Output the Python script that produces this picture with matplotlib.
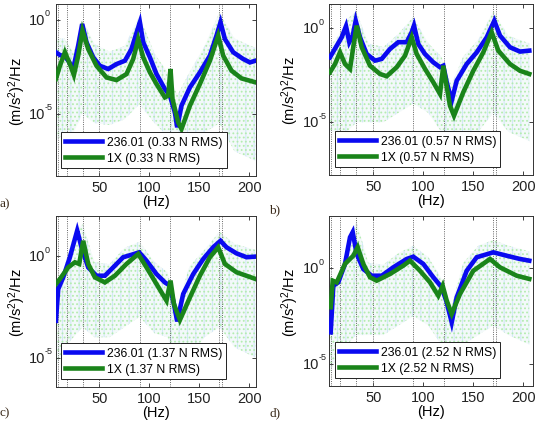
import numpy as np
import matplotlib
matplotlib.use('Agg')
import matplotlib.pyplot as plt
from matplotlib.transforms import blended_transform_factory, offset_copy

# ---------------- data (log10 of PSD, (m/s^2)^2/Hz) ----------------
mode_lines = [8, 17, 33, 50, 90, 121, 169.5, 172.5]

# panel a (0.33 N RMS)
a_bf = [6.4, 10.4, 15.4, 19, 23.7, 28.7, 32.7, 37, 43.7, 50.4, 58.7, 67, 75.4, 82, 87.7, 90.4, 93.7, 100.4, 107, 115.4, 120.4, 125.4, 127.7, 132, 140.4, 150.4, 160.4, 167, 171, 175.4, 183.7, 193.7, 200.4, 206]
a_bv = [-1.73, -1.88, -1.95, -2.2, -2.62, -1.38, -0.23, -1.2, -2.0, -2.45, -2.62, -2.36, -2.18, -1.56, -0.58, -0.14, -1.2, -2.0, -2.89, -3.69, -4.04, -4.93, -5.72, -4.57, -3.6, -2.8, -1.91, -0.85, -0.14, -1.03, -1.73, -2.09, -2.27, -2.18]
a_gf = [6.4, 10.4, 15.4, 20.4, 24.4, 28.7, 33, 38.7, 47, 57, 67, 77, 83.7, 88.7, 93.7, 100.4, 107, 115.4, 118.7, 121, 123, 128.7, 132, 140.4, 150.4, 160.4, 168.7, 173.7, 182, 192, 206]
a_gv = [-3.15, -2.45, -1.73, -2.36, -2.94, -1.91, -0.58, -1.56, -2.45, -3.07, -3.21, -2.89, -2.09, -1.03, -2.0, -2.8, -3.42, -4.13, -4.04, -2.62, -4.22, -5.46, -5.81, -4.57, -3.42, -2.18, -0.85, -1.91, -2.71, -3.12, -3.33]

# panel b (0.57 N RMS)
b_bf = [6.7, 13.4, 18.4, 22.7, 26, 29.4, 32.4, 36.7, 43.4, 51.7, 58.4, 66.7, 75, 83.4, 88.4, 90.7, 95, 101.7, 110, 116.7, 120, 123.4, 128.4, 133.4, 143.4, 153.4, 163.4, 171, 176.7, 186.7, 196.7, 206]
b_bv = [-1.54, -0.93, -0.48, 0.11, -0.74, -0.39, 0.40, -0.48, -1.37, -1.72, -1.63, -1.10, -0.74, -0.74, -0.21, 0.14, -0.84, -1.37, -1.81, -2.07, -1.99, -2.87, -3.85, -2.79, -1.90, -1.28, -0.48, 0.40, -0.39, -1.01, -1.24, -1.19]
b_gf = [6.7, 11.7, 16.7, 21.7, 26.7, 30.7, 33.4, 38.4, 46.7, 56.7, 63.4, 73.4, 81.7, 88.4, 93.4, 101.7, 110, 116.7, 120, 122.7, 126.7, 130.7, 140, 150, 160, 168.4, 175, 186.7, 196.7, 206]
b_gv = [-2.34, -1.90, -1.28, -1.90, -2.16, -0.74, 0.14, -1.01, -1.99, -2.43, -2.55, -2.07, -1.46, -0.48, -1.37, -2.16, -2.87, -3.49, -1.99, -2.87, -4.12, -4.65, -3.40, -2.26, -1.28, -0.21, -1.19, -1.90, -2.26, -2.43]

# panel c (1.37 N RMS)
c_bf = [6.4, 8.7, 13.7, 20.4, 25.4, 27.7, 32, 38.7, 47, 55.4, 63.7, 73.7, 82, 89.7, 97, 107, 115.4, 120.4, 124.4, 127.7, 133.7, 143.7, 153.7, 163.7, 171, 177, 187, 197, 206]
c_bv = [-3.19, -1.63, -1.05, -0.06, 0.84, 1.25, 0.43, -0.56, -0.97, -0.97, -0.56, -0.06, 0.06, 0.18, -0.23, -0.89, -1.30, -1.46, -2.36, -3.22, -1.87, -0.89, -0.15, 0.43, 0.75, 0.43, 0.13, -0.06, -0.03]
c_gf = [6.4, 10.4, 18.7, 25.4, 29.7, 33.7, 38.7, 45.4, 55.4, 65.4, 77, 88.7, 97, 107, 117, 121, 124.4, 130.4, 140.4, 150.4, 160.4, 168.7, 175.4, 187, 206]
c_gv = [-1.38, -1.13, -0.56, -0.31, -0.39, 0.75, -0.39, -1.05, -1.30, -0.97, -0.39, 0.10, -0.56, -1.38, -2.20, -1.21, -2.36, -3.15, -2.04, -0.97, -0.06, 0.43, -0.39, -0.80, -1.13]

# panel d (2.52 N RMS)
d_bf = [7.4, 10, 15, 21.7, 26.7, 29.4, 33.4, 40, 48.4, 58.4, 70, 83.4, 90, 100, 110, 118.4, 123.4, 128.4, 133.4, 143.4, 153.4, 170, 183.4, 196.7, 206]
d_bv = [-3.36, -0.91, -0.73, 0.24, 1.64, 1.91, 0.76, -0.03, -0.38, -0.38, 0.06, 0.50, 0.62, 0.24, -0.46, -0.99, -1.78, -2.83, -1.52, -0.12, 0.59, 0.85, 0.67, 0.50, 0.41]
d_gf = [7.4, 9.4, 13.4, 21.7, 30, 34.4, 40, 46.7, 53.4, 66.7, 80, 86.7, 96.7, 106.7, 115, 119.4, 123.4, 128.4, 136.7, 150, 166.7, 176.7, 193.4, 206]
d_gv = [-2.04, -0.64, -0.73, 0.24, 0.67, 1.12, 0.24, -0.46, -0.64, -0.29, 0.15, 0.41, -0.12, -0.73, -1.43, -0.91, -1.69, -2.39, -1.34, -0.12, 0.50, 0.06, -0.38, -0.55]

# raw (unsmoothed) spectra envelope
raw_f = [6, 15, 24, 33, 45, 60, 75, 90, 105, 118, 128, 140, 155, 170, 185, 206]
a_hi = [-1.0, -1.0, -1.8, 0.0, -1.3, -1.7, -1.4, 0.2, -1.8, -2.8, -4.0, -2.8, -1.4, 0.4, -1.0, -1.5]
a_lo = [-6.5, -6.0, -6.0, -5.0, -5.5, -5.6, -5.3, -4.5, -5.5, -6.2, -7.5, -7.0, -6.0, -5.5, -7.0, -7.5]
b_hi = [-1.0, -0.4, 0.5, 0.9, -0.8, -1.0, -0.3, 0.6, -0.8, -1.5, -3.0, -1.5, -0.6, 0.9, -0.4, -0.8]
b_lo = [-5.5, -5.5, -5.5, -5.0, -5.0, -5.0, -4.5, -4.0, -4.5, -5.5, -6.5, -6.0, -5.5, -4.5, -5.5, -6.0]
c_hi = [-2.0, -0.5, 1.0, 1.6, -0.3, -0.4, 0.4, 0.7, -0.3, -0.8, -2.5, -0.5, 0.3, 1.2, 0.6, 0.3]
c_lo = [-5.5, -4.5, -4.0, -3.5, -4.0, -4.0, -3.5, -3.0, -3.8, -4.0, -5.5, -5.0, -4.0, -3.5, -4.5, -5.0]
d_hi = [-2.0, -0.3, 1.0, 2.5, 0.3, 0.2, 0.8, 1.2, 0.6, -0.5, -2.0, 0.3, 1.2, 1.5, 1.2, 0.9]
d_lo = [-5.5, -4.5, -4.0, -3.5, -3.5, -3.5, -3.0, -2.5, -3.0, -4.0, -5.0, -4.0, -3.5, -3.0, -3.5, -4.0]

forces = ['0.33', '0.57', '1.37', '2.52']
letters = ['a)', 'b)', 'c)', 'd)']
xticks = [50, 100, 150, 200]
ytick_vals = [1e-5, 1e0]
ytick_exps = ['-5', '0']

# ---------------- style ----------------
plt.rcParams['font.family'] = ['Liberation Sans Narrow', 'Liberation Sans', 'DejaVu Sans']
plt.rcParams['mathtext.default'] = 'regular'
plt.rcParams['hatch.linewidth'] = 0.8

W, H = 535, 427
fig = plt.figure(figsize=(W / 100, H / 100), dpi=100)

boxes = [(55.5, 5, 256, 177), (329.3, 5, 533, 176), (55.5, 217, 256, 388), (329.3, 217, 533, 387)]
ylims = [(-8.31, 0.835), (-7.80, 1.29), (-6.45, 1.97), (-6.18, 2.76)]
xlims = [(6, 206.5), (6, 209.7), (6, 206.5), (6, 209.7)]
ylab_x = [17, 290, 17, 290]
letter_pos = [(0, 204), (269, 210), (0, 413), (269, 413)]

series = [(a_bf, a_bv, a_gf, a_gv, a_hi, a_lo),
          (b_bf, b_bv, b_gf, b_gv, b_hi, b_lo),
          (c_bf, c_bv, c_gf, c_gv, c_hi, c_lo),
          (d_bf, d_bv, d_gf, d_gv, d_hi, d_lo)]

blue = '#0a0af0'
green = '#1a841a'

for i, (bf, bv, gf, gv, hi, lo) in enumerate(series):
    l, t, r, b = boxes[i]
    ax = fig.add_axes([l / W, (H - b) / H, (r - l) / W, (b - t) / H])
    ax.set_yscale('log')
    rf = np.array(raw_f)
    ylo, yhi = 10 ** np.array(lo), 10 ** np.array(hi)
    ax.fill_between(rf, ylo, yhi, facecolor='#f3f9fa', edgecolor='#d2e8f6',
                    hatch='||', linewidth=0, zorder=1)
    ax.fill_between(rf, ylo, yhi, facecolor='none', edgecolor='#b4ecb0',
                    hatch='....', linewidth=0, zorder=1.1)
    for m in mode_lines:
        ax.axvline(m, color='#666666', ls=(0, (1, 1.3)), lw=0.7, zorder=2)
    hb, = ax.plot(bf, 10 ** np.array(bv), color=blue, lw=3.3, zorder=4,
                  solid_joinstyle='miter')
    hg, = ax.plot(gf, 10 ** np.array(gv), color=green, lw=3.3, zorder=5,
                  solid_joinstyle='miter')
    ax.set_xlim(*xlims[i])
    ax.set_ylim(10 ** ylims[i][0], 10 ** ylims[i][1])
    ax.set_xticks(xticks)
    ax.set_xticklabels([str(v) for v in xticks], fontsize=10.5)
    ax.set_yticks(ytick_vals)
    ax.set_yticklabels(['', ''])
    ax.yaxis.set_minor_locator(matplotlib.ticker.NullLocator())
    ax.tick_params(direction='in', length=3, width=0.6, top=True, right=True,
                   pad=3, colors='#222222')
    for s in ax.spines.values():
        s.set_linewidth(0.7)
        s.set_color('#333333')
    trans = blended_transform_factory(ax.transAxes, ax.transData)
    for v, e in zip(ytick_vals, ytick_exps):
        ax.text(0, v, '10', transform=offset_copy(trans, fig=fig, x=-10.5, y=0, units='dots'),
                ha='right', va='center', fontsize=10.5, color='#222222')
        ax.text(0, v, e, transform=offset_copy(trans, fig=fig, x=-10.5, y=7, units='dots'),
                ha='left', va='center', fontsize=6.5, color='#222222')
    ax.set_xlabel('(Hz)', fontsize=10.5, labelpad=0)
    leg = ax.legend([hb, hg], ['236.01 (%s N RMS)' % forces[i], '1X (%s N RMS)' % forces[i]],
                    loc='lower left', bbox_to_anchor=(0.027, 0.045), fontsize=8.8,
                    frameon=True, fancybox=False, framealpha=1, edgecolor='#222222',
                    handlelength=3.0, handletextpad=0.4, borderpad=0.35,
                    labelspacing=0.3, borderaxespad=0)
    leg.get_frame().set_linewidth(0.7)
    leg.set_zorder(10)
    cy = (t + b) / 2
    fig.text(ylab_x[i] / W, 1 - cy / H, '(m/s$^2$)$^2$/Hz', rotation=90,
             ha='center', va='center', fontsize=10.5,
             family=['Liberation Sans', 'DejaVu Sans'])
    lx, ly = letter_pos[i]
    fig.text(lx / W, 1 - ly / H, letters[i], ha='left', va='center', fontsize=9.5,
             family=['Liberation Serif', 'DejaVu Serif'], color='#3a2a1a')

fig.savefig('out.png', dpi=100)
